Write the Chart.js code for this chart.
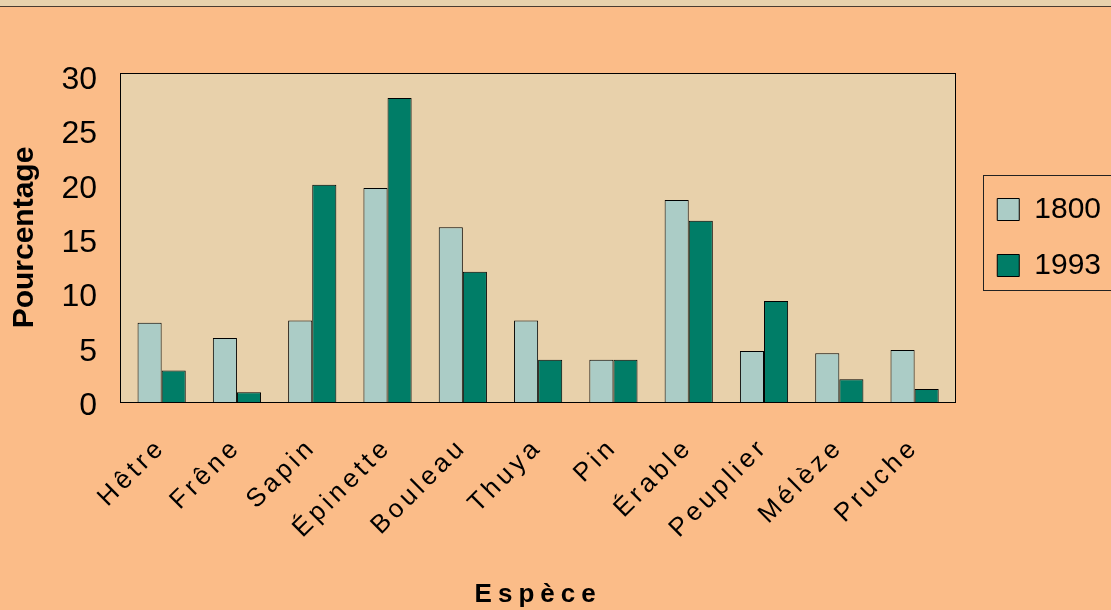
<!DOCTYPE html>
<html>
<head>
<meta charset="utf-8">
<script src="https://cdn.jsdelivr.net/npm/chart.js@4.4.1/dist/chart.umd.min.js"></script>
<style>
    html, body { margin: 0; padding: 0; background: #FBBC88; overflow: hidden; }
    canvas { display: block; }
</style>
</head>
<body>
<canvas id="speciesChart" width="1111" height="610"></canvas>
<script>
const categories = ['Hêtre', 'Frêne', 'Sapin', 'Épinette', 'Bouleau', 'Thuya', 'Pin', 'Érable', 'Peuplier', 'Mélèze', 'Pruche'];
const values1800 = [7.3, 5.9, 7.5, 19.7, 16.1, 7.5, 3.9, 18.6, 4.7, 4.5, 4.8];
const values1993 = [2.9, 0.9, 20.0, 28.0, 12.0, 3.9, 3.9, 16.7, 9.3, 2.1, 1.2];
const yTicks = [0, 5, 10, 15, 20, 25, 30];

// wrap a draw method so the text it draws gets letter spacing
function spaced(obj, method, spacing) {
    if (!obj || obj['_spaced_' + method]) return;
    const orig = obj[method];
    obj[method] = function (...args) {
        const ctx = this.ctx;
        ctx.save();
        ctx.letterSpacing = spacing;
        orig.apply(this, args);
        ctx.restore();
    };
    obj['_spaced_' + method] = true;
}

const decorPlugin = {
    id: 'decor',
    afterLayout(chart) {
        spaced(chart.scales.x, 'drawLabels', '4px');
        spaced(chart.scales.x, 'drawTitle', '6px');
    },
    beforeDraw(chart) {
        const ctx = chart.ctx;
        const a = chart.chartArea;
        ctx.save();
        ctx.fillStyle = '#FBBC88';
        ctx.fillRect(0, 0, chart.width, chart.height);
        // strip along the top edge
        ctx.fillStyle = '#E8D2AC';
        ctx.fillRect(0, 0, chart.width, 6);
        ctx.fillStyle = '#4a3c30';
        ctx.fillRect(0, 6, chart.width, 1);
        // plot area (frame sits a few px outside the category range)
        ctx.fillStyle = '#E8D1AB';
        ctx.fillRect(a.left - 4, a.top, a.right - a.left + 7, a.bottom - a.top);
        ctx.restore();
    },
    beforeDatasetsDraw(chart) {
        const ctx = chart.ctx;
        const a = chart.chartArea;
        ctx.save();
        ctx.strokeStyle = '#000';
        ctx.lineWidth = 1;
        ctx.strokeRect(Math.round(a.left - 4) + 0.5, Math.round(a.top) + 0.5, Math.round(a.right - a.left + 7), Math.round(a.bottom - a.top));
        ctx.restore();
    },
    afterDraw(chart) {
        const boxes = chart.legend && chart.legend.legendHitBoxes;
        if (!boxes || !boxes.length) return;
        const first = boxes[0];
        const last = boxes[boxes.length - 1];
        const ctx = chart.ctx;
        ctx.save();
        ctx.strokeStyle = '#222';
        ctx.lineWidth = 1;
        const left = Math.round(first.left - 14) + 0.5;
        const top = Math.round(first.top - 20) + 0.5;
        const bottom = Math.round(last.top + last.height + 9) + 0.5;
        ctx.strokeRect(left, top, chart.width + 10 - left, bottom - top);
        ctx.restore();
    }
};

document.addEventListener('DOMContentLoaded', () => {
    const ctx = document.getElementById('speciesChart').getContext('2d');

    new Chart(ctx, {
        type: 'bar',
        data: {
            labels: categories,
            datasets: [
                {
                    label: '1800',
                    data: values1800,
                    backgroundColor: '#ABCCC6',
                    borderColor: '#000',
                    borderWidth: 1
                },
                {
                    label: '1993',
                    data: values1993,
                    backgroundColor: '#007D67',
                    borderColor: '#000',
                    borderWidth: 1
                }
            ]
        },
        options: {
            responsive: false,
            animation: false,
            layout: {
                padding: { top: 73, left: 7, right: 0, bottom: 0 }
            },
            datasets: {
                bar: {
                    categoryPercentage: 0.64,
                    barPercentage: 1
                }
            },
            plugins: {
                legend: {
                    position: 'right',
                    fullSize: false,
                    labels: {
                        boxWidth: 22,
                        boxHeight: 22,
                        padding: 26,
                        color: '#000',
                        font: { family: 'Liberation Sans, Arial, sans-serif', size: 30 }
                    }
                },
                tooltip: { enabled: false }
            },
            scales: {
                x: {
                    grid: { display: false, drawTicks: false },
                    border: { display: false },
                    ticks: {
                        minRotation: 45,
                        maxRotation: 45,
                        padding: 30,
                        color: '#000',
                        font: { family: 'Liberation Sans, Arial, sans-serif', size: 26 }
                    },
                    title: {
                        display: true,
                        text: 'Espèce',
                        color: '#000',
                        padding: 0,
                        font: { family: 'Liberation Sans, Arial, sans-serif', size: 26, weight: 'bold' }
                    },
                    afterFit: scale => { scale.height = 208; }
                },
                y: {
                    min: 0,
                    max: 30.3,
                    grid: { display: false, drawTicks: false },
                    border: { display: false },
                    ticks: {
                        padding: 27,
                        labelOffset: 4,
                        color: '#000',
                        font: { family: 'Liberation Sans, Arial, sans-serif', size: 32 }
                    },
                    afterBuildTicks: scale => {
                        scale.ticks = yTicks.map(v => ({ value: v }));
                    },
                    title: {
                        display: true,
                        text: 'Pourcentage',
                        color: '#000',
                        padding: 0,
                        font: { family: 'Liberation Sans, Arial, sans-serif', size: 30, weight: 'bold' }
                    },
                    afterFit: scale => { scale.width = 117; }
                },
                gap: {
                    type: 'linear',
                    position: 'right',
                    display: true,
                    grid: { display: false, drawTicks: false },
                    border: { display: false },
                    ticks: { display: false },
                    afterFit: scale => { scale.width = 19; }
                }
            }
        },
        plugins: [decorPlugin]
    });
});
</script>
</body>
</html>
